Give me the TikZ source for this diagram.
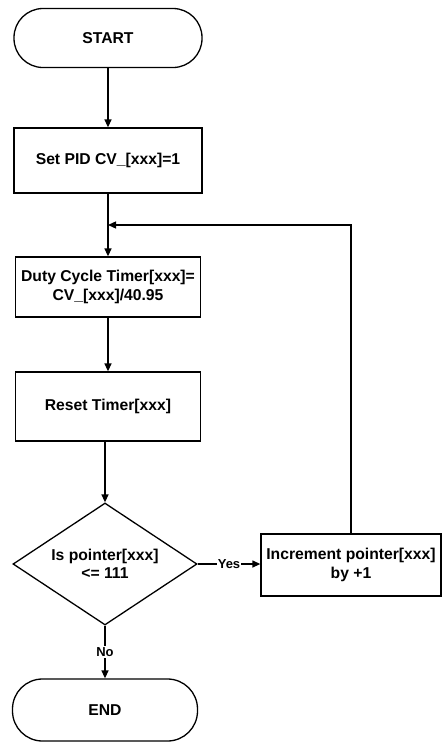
\documentclass[tikz,border=0pt]{standalone}
\usepackage{fontspec}
\setmainfont{Liberation Sans}
\usetikzlibrary{shapes.geometric,arrows.meta}
\begin{document}
\begin{tikzpicture}[x=1pt,y=-1pt,
  every node/.style={font=\fontsize{15.7}{18.5}\selectfont\bfseries, align=center},
  term/.style={draw, line width=1.3pt, rounded corners=29pt, inner sep=0pt},
  proc/.style={draw, line width=1.3pt, inner sep=0pt},
  decis/.style={draw, diamond, line width=1.3pt, inner sep=0pt, shape aspect=1.5},
  conn/.style={line width=1.3pt, -{Triangle[length=8pt,width=7pt]}},
  lbl/.style={fill=white, inner sep=1pt, font=\fontsize{13}{15}\selectfont\bfseries}]
\useasboundingbox (0,0) rectangle (442,753);
\node[term, minimum width=188pt, minimum height=59pt] (start) at (108,38) {START};
\node[proc, minimum width=188pt, minimum height=65pt] (setpid) at (108,160.5) {Set PID CV\_[xxx]=1};
\node[proc, minimum width=185pt, minimum height=60pt] (duty) at (108,287) {Duty Cycle Timer[xxx]=\\CV\_[xxx]/40.95};
\node[proc, minimum width=185pt, minimum height=69pt] (reset) at (108,406.5) {Reset Timer[xxx]};
\node[decis, minimum width=184pt, minimum height=122pt] (dec) at (105,564) {Is pointer[xxx]\\<= 111};
\node[proc, minimum width=180pt, minimum height=62pt] (inc) at (351,565) {Increment pointer[xxx]\\by +1};
\node[term, minimum width=185pt, minimum height=62pt, rounded corners=30pt] (end) at (105,710) {END};
\coordinate (join) at (108,225);
\draw[conn] (start) -- (setpid);
\draw[line width=1.3pt] (setpid) -- (join);
\draw[conn] (join) -- (duty);
\draw[conn] (duty) -- (reset);
\draw[conn] (dec.north |- reset.south) -- (dec.north);
\draw[conn] (dec.east) -- node[lbl]{Yes} (dec.east -| inc.west);
\draw[conn] (dec.south) -- node[lbl]{No} (end.north);
\draw[conn] (inc.north) |- (join);
\end{tikzpicture}
\end{document}
